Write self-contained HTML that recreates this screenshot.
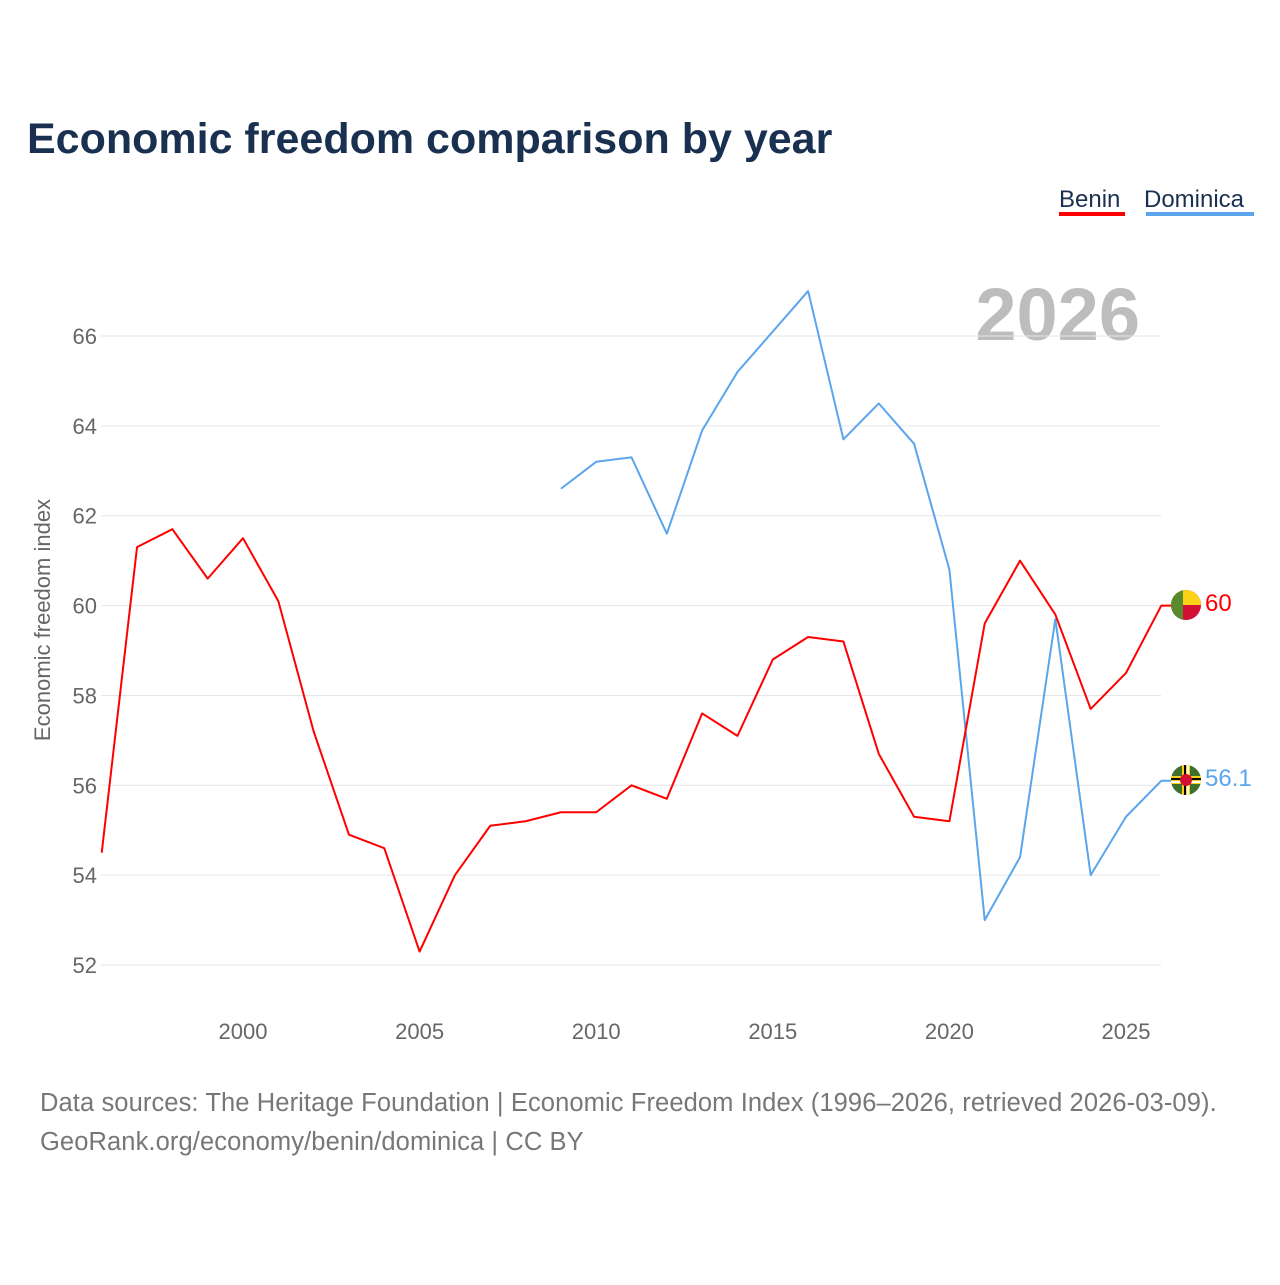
<!DOCTYPE html>
<html><head><meta charset="utf-8"><style>
body{margin:0;background:#fff;font-family:"Liberation Sans","DejaVu Sans",sans-serif}
svg text{font-family:"Liberation Sans","DejaVu Sans",sans-serif}
</style></head><body>
<svg id="chart" width="1280" height="1280" viewBox="0 0 1280 1280">
<text x="27" y="153" font-size="43" font-weight="bold" fill="#1a3050">Economic freedom comparison by year</text>
<g>
<text x="1059" y="207" font-size="24" fill="#1a3050">Benin</text>
<rect x="1059" y="212" width="66" height="4" fill="#ff0000"/>
<text x="1144" y="207" font-size="24" fill="#1a3050">Dominica</text>
<rect x="1146" y="212" width="108" height="4" fill="#5aa5ec"/>
</g>
<text x="1140" y="340" font-size="74" font-weight="bold" fill="#bdbdbd" text-anchor="end">2026</text>
<g id="grid"></g><g id="yt"></g><g id="xt"></g><g id="lines"></g>
<text transform="translate(50,620) rotate(-90)" font-size="22" fill="#666" text-anchor="middle">Economic freedom index</text>
<g>
<clipPath id="cb"><circle cx="1186" cy="605" r="15"/></clipPath>
<g clip-path="url(#cb)"><rect x="1171" y="590" width="30" height="30" fill="#d21034"/><rect x="1171" y="590" width="30" height="15" fill="#fcd116"/><rect x="1171" y="590" width="12" height="30" fill="#5a8a2e"/></g>
</g>
<text x="1205" y="611" font-size="24" fill="#ff0000">60</text>
<g>
<clipPath id="cd"><circle cx="1186" cy="780" r="15"/></clipPath>
<g clip-path="url(#cd)"><rect x="1171" y="765" width="30" height="30" fill="#3f6f2a"/>
<rect x="1182" y="765" width="8" height="30" fill="#fcd116"/><rect x="1184" y="765" width="2" height="30" fill="#000"/><rect x="1187" y="765" width="2" height="30" fill="#fff"/>
<rect x="1171" y="776" width="30" height="8" fill="#fcd116"/><rect x="1171" y="778" width="30" height="2" fill="#000"/><rect x="1171" y="781" width="30" height="2" fill="#fff"/>
<circle cx="1186" cy="780" r="6" fill="#d21034"/></g>
</g>
<text x="1205" y="786" font-size="24" fill="#5aa5ec">56.1</text>
<text x="40" y="1111" font-size="25.5" letter-spacing="0.1" fill="#777">Data sources: The Heritage Foundation | Economic Freedom Index (1996–2026, retrieved 2026-03-09).</text>
<text x="40" y="1150" font-size="25.5" letter-spacing="0.1" fill="#777">GeoRank.org/economy/benin/dominica | CC BY</text>
</svg>
<script>
const yTicks=[52,54,56,58,60,62,64,66];
const xTicks=[2000,2005,2010,2015,2020,2025];
const beninYears=[1996,1997,1998,1999,2000,2001,2002,2003,2004,2005,2006,2007,2008,2009,2010,2011,2012,2013,2014,2015,2016,2017,2018,2019,2020,2021,2022,2023,2024,2025,2026];
const beninValues=[54.5,61.3,61.7,60.6,61.5,60.1,57.2,54.9,54.6,52.3,54.0,55.1,55.2,55.4,55.4,56.0,55.7,57.6,57.1,58.8,59.3,59.2,56.7,55.3,55.2,59.6,61.0,59.8,57.7,58.5,60.0];
const dominicaYears=[2009,2010,2011,2012,2013,2014,2015,2016,2017,2018,2019,2020,2021,2022,2023,2024,2025,2026];
const dominicaValues=[62.6,63.2,63.3,61.6,63.9,65.2,66.1,67.0,63.7,64.5,63.6,60.8,53.0,54.4,59.7,54.0,55.3,56.1];
const ns="http://www.w3.org/2000/svg";
const X=y=>243+(y-2000)*35.32;
const Y=v=>336+(66-v)*44.93;
function mk(t,a,p){const e=document.createElementNS(ns,t);for(const k in a)e.setAttribute(k,a[k]);document.getElementById(p).appendChild(e);return e;}
yTicks.forEach(v=>{
 const l=mk('line',{x1:101,x2:1161,y1:Y(v),y2:Y(v),stroke:'#e6e6e6','stroke-width':1},'grid');
 
 
 const t=mk('text',{x:97,y:Y(v)+8,'font-size':22,fill:'#666','text-anchor':'end'},'yt');
 t.textContent=v;
 
 
});
xTicks.forEach(v=>{
 const t=mk('text',{x:X(v),y:1039,'font-size':22,fill:'#666','text-anchor':'middle'},'xt');
 t.textContent=v;
 
 
});
function line(ys,vs,c,n){
 const pts=ys.map((y,i)=>X(y)+','+Y(vs[i]));
 pts.push((X(ys[ys.length-1])+10)+','+Y(vs[vs.length-1]));
 const p=mk('polyline',{points:pts.join(' '),fill:'none',stroke:c,'stroke-width':2,'stroke-linejoin':'round'},'lines');
 
 
}
line(dominicaYears,dominicaValues,'#5aa5ec','dominica-line');
line(beninYears,beninValues,'#ff0000','benin-line');
</script>
</body></html>
